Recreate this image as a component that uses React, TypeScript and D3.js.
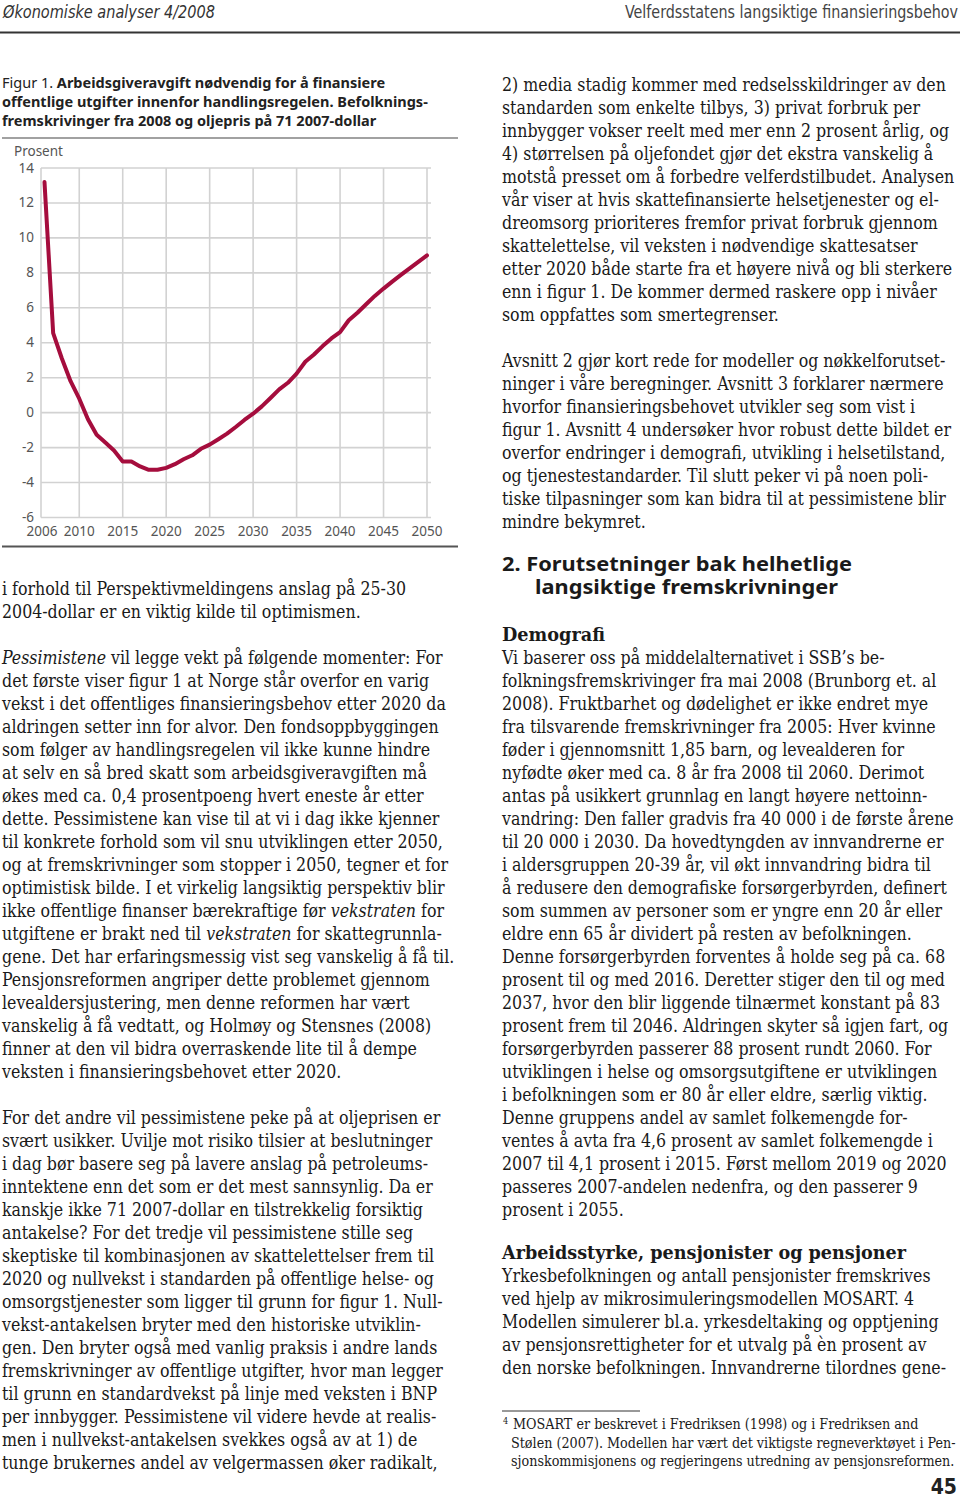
import React from 'react'
import * as d3 from 'd3'

// Arbeidsgiveravgift, prosent, 2006-2050
const years = d3.range(2006, 2051)
const values = [
    13.2, 4.55, 3.1, 1.8, 0.8, -0.38, -1.27, -1.71, -2.17, -2.8,
    -2.8, -3.08, -3.27, -3.27, -3.16, -2.95, -2.67, -2.44, -2.07, -1.83,
    -1.52, -1.2, -0.82, -0.42, -0.06, 0.36, 0.84, 1.33, 1.71, 2.23,
    2.91, 3.33, 3.81, 4.25, 4.61, 5.29, 5.72, 6.2, 6.68, 7.1,
    7.5, 7.88, 8.26, 8.63, 9.0,
]
const yTicks = [14, 12, 10, 8, 6, 4, 2, 0, -2, -4, -6]
const xGrid = [2010, 2015, 2020, 2025, 2030, 2035, 2040, 2045, 2050]
const xLabels = [2006, 2010, 2015, 2020, 2025, 2030, 2035, 2040, 2045, 2050]

const captionLines = [
    'offentlige utgifter innenfor handlingsregelen. Befolknings-',
    'fremskrivinger fra 2008 og oljepris på 71 2007-dollar',
]

// *...* = kursiv, '' = tom linje
const leftText = [
    'i forhold til Perspektivmeldingens anslag på 25-30',
    '2004-dollar er en viktig kilde til optimismen.',
    '',
    '*Pessimistene* vil legge vekt på følgende momenter: For',
    'det første viser figur 1 at Norge står overfor en varig',
    'vekst i det offentliges finansieringsbehov etter 2020 da',
    'aldringen setter inn for alvor. Den fondsoppbyggingen',
    'som følger av handlingsregelen vil ikke kunne hindre',
    'at selv en så bred skatt som arbeidsgiveravgiften må',
    'økes med ca. 0,4 prosentpoeng hvert eneste år etter',
    'dette. Pessimistene kan vise til at vi i dag ikke kjenner',
    'til konkrete forhold som vil snu utviklingen etter 2050,',
    'og at fremskrivninger som stopper i 2050, tegner et for',
    'optimistisk bilde. I et virkelig langsiktig perspektiv blir',
    'ikke offentlige finanser bærekraftige før *vekstraten* for',
    'utgiftene er brakt ned til *vekstraten* for skattegrunnla-',
    'gene. Det har erfaringsmessig vist seg vanskelig å få til.',
    'Pensjonsreformen angriper dette problemet gjennom',
    'levealdersjustering, men denne reformen har vært',
    'vanskelig å få vedtatt, og Holmøy og Stensnes (2008)',
    'finner at den vil bidra overraskende lite til å dempe',
    'veksten i finansieringsbehovet etter 2020.',
    '',
    'For det andre vil pessimistene peke på at oljeprisen er',
    'svært usikker. Uvilje mot risiko tilsier at beslutninger',
    'i dag bør basere seg på lavere anslag på petroleums-',
    'inntektene enn det som er det mest sannsynlig. Da er',
    'kanskje ikke 71 2007-dollar en tilstrekkelig forsiktig',
    'antakelse? For det tredje vil pessimistene stille seg',
    'skeptiske til kombinasjonen av skattelettelser frem til',
    '2020 og nullvekst i standarden på offentlige helse- og',
    'omsorgstjenester som ligger til grunn for figur 1. Null-',
    'vekst-antakelsen bryter med den historiske utviklin-',
    'gen. Den bryter også med vanlig praksis i andre lands',
    'fremskrivninger av offentlige utgifter, hvor man legger',
    'til grunn en standardvekst på linje med veksten i BNP',
    'per innbygger. Pessimistene vil videre hevde at realis-',
    'men i nullvekst-antakelsen svekkes også av at 1) de',
    'tunge brukernes andel av velgermassen øker radikalt,',
]

const rightTop = [
    '2) media stadig kommer med redselsskildringer av den',
    'standarden som enkelte tilbys, 3) privat forbruk per',
    'innbygger vokser reelt med mer enn 2 prosent årlig, og',
    '4) størrelsen på oljefondet gjør det ekstra vanskelig å',
    'motstå presset om å forbedre velferdstilbudet. Analysen',
    'vår viser at hvis skattefinansierte helsetjenester og el-',
    'dreomsorg prioriteres fremfor privat forbruk gjennom',
    'skattelettelse, vil veksten i nødvendige skattesatser',
    'etter 2020 både starte fra et høyere nivå og bli sterkere',
    'enn i figur 1. De kommer dermed raskere opp i nivåer',
    'som oppfattes som smertegrenser.',
    '',
    'Avsnitt 2 gjør kort rede for modeller og nøkkelforutset-',
    'ninger i våre beregninger. Avsnitt 3 forklarer nærmere',
    'hvorfor finansieringsbehovet utvikler seg som vist i',
    'figur 1. Avsnitt 4 undersøker hvor robust dette bildet er',
    'overfor endringer i demografi, utvikling i helsetilstand,',
    'og tjenestestandarder. Til slutt peker vi på noen poli-',
    'tiske tilpasninger som kan bidra til at pessimistene blir',
    'mindre bekymret.',
]

const demografi = [
    'Vi baserer oss på middelalternativet i SSB’s be-',
    'folkningsfremskrivinger fra mai 2008 (Brunborg et. al',
    '2008). Fruktbarhet og dødelighet er ikke endret mye',
    'fra tilsvarende fremskrivninger fra 2005: Hver kvinne',
    'føder i gjennomsnitt 1,85 barn, og levealderen for',
    'nyfødte øker med ca. 8 år fra 2008 til 2060. Derimot',
    'antas på usikkert grunnlag en langt høyere nettoinn-',
    'vandring: Den faller gradvis fra 40 000 i de første årene',
    'til 20 000 i 2030. Da hovedtyngden av innvandrerne er',
    'i aldersgruppen 20-39 år, vil økt innvandring bidra til',
    'å redusere den demografiske forsørgerbyrden, definert',
    'som summen av personer som er yngre enn 20 år eller',
    'eldre enn 65 år dividert på resten av befolkningen.',
    'Denne forsørgerbyrden forventes å holde seg på ca. 68',
    'prosent til og med 2016. Deretter stiger den til og med',
    '2037, hvor den blir liggende tilnærmet konstant på 83',
    'prosent frem til 2046. Aldringen skyter så igjen fart, og',
    'forsørgerbyrden passerer 88 prosent rundt 2060. For',
    'utviklingen i helse og omsorgsutgiftene er utviklingen',
    'i befolkningen som er 80 år eller eldre, særlig viktig.',
    'Denne gruppens andel av samlet folkemengde for-',
    'ventes å avta fra 4,6 prosent av samlet folkemengde i',
    '2007 til 4,1 prosent i 2015. Først mellom 2019 og 2020',
    'passeres 2007-andelen nedenfra, og den passerer 9',
    'prosent i 2055.',
]

const arbeid = [
    'Yrkesbefolkningen og antall pensjonister fremskrives',
    'ved hjelp av mikrosimuleringsmodellen MOSART. 4',
    'Modellen simulerer bl.a. yrkesdeltaking og opptjening',
    'av pensjonsrettigheter for et utvalg på èn prosent av',
    'den norske befolkningen. Innvandrerne tilordnes gene-',
]

const footnote = [
    'MOSART er beskrevet i Fredriksen (1998) og i Fredriksen and',
    'Stølen (2007). Modellen har vært det viktigste regneverktøyet i Pen-',
    'sjonskommisjonens og regjeringens utredning av pensjonsreformen.',
]

const SERIF = '"DejaVu Serif Condensed", "DejaVu Serif", serif'
const SANS = '"Noto Sans", "Open Sans", sans-serif'
const NARROW = '"Liberation Sans Narrow", "DejaVu Sans Condensed", sans-serif'
const LH = 23
const BODY = 17.6

const Line = ({ text, x, y, size = BODY, weight = 'normal', len = undefined }) => {
    const parts = text.split('*')
    return (
        <text x={x} y={y} fontFamily={SERIF} fontSize={size} fontWeight={weight} fill='#1a1a1a'
            textLength={len} lengthAdjust={len ? 'spacingAndGlyphs' : undefined}>
            {parts.map((p, i) => (
                <tspan key={i} fontStyle={i % 2 ? 'italic' : 'normal'}>{p}</tspan>
            ))}
        </text>
    )
}

const Block = ({ lines, x, y }) => (
    <g>
        {lines.map((l, i) => l && <Line key={i} text={l} x={x} y={y + i * LH} />)}
    </g>
)

const Chart = () => {
    const x = d3.scaleLinear().domain([2005.6, 2050]).range([41, 427])
    const y = d3.scaleLinear().domain([-6, 14]).range([517.5, 168])
    const line = d3.line<number>()
        .x((d, i) => x(years[i]))
        .y(d => y(d))

    return (
        <g>
            {yTicks.map(t => (
                <g key={t}>
                    <line x1={x(2005.6)} x2={x(2050) + 4} y1={y(t)} y2={y(t)} stroke='#d2d2d2' strokeWidth={1.6} />
                    <text x={34} y={y(t) + 4.5} textAnchor='end' fontFamily={SANS} fontSize={13.5} fill='#555'>{t}</text>
                </g>
            ))}
            <line x1={x(2005.6)} x2={x(2005.6)} y1={y(14)} y2={y(-6)} stroke='#d2d2d2' strokeWidth={1.6} />
            {xGrid.map(t => (
                <line key={t} x1={x(t)} x2={x(t)} y1={y(14)} y2={y(-6)} stroke='#d2d2d2' strokeWidth={1.6} />
            ))}
            {xLabels.map(t => (
                <text key={t} x={t === 2006 ? x(2005.6) + 1 : x(t)} y={535.5} textAnchor='middle' fontFamily={SANS} fontSize={13.5} fill='#555'>{t}</text>
            ))}
            <text x={14} y={156} fontFamily={SANS} fontSize={13.5} fill='#555'>Prosent</text>
            <path d={line(values)} fill='none' stroke='#a50d3d' strokeWidth={4} strokeLinejoin='round' strokeLinecap='round' />
        </g>
    )
}

const App = () => {
    return (
        <svg width={960} height={1499} style={{ position: 'absolute', left: 0, top: 0, background: '#fff' }}>
            <rect width={960} height={1499} fill='#fff' />
            {/* header */}
            <text x={3} y={18} fontFamily={NARROW} fontStyle='italic' fontSize={18} fill='#333' textLength={212} lengthAdjust='spacingAndGlyphs'>Økonomiske analyser 4/2008</text>
            <text x={625} y={18} fontFamily={NARROW} fontSize={18} fill='#444' textLength={333} lengthAdjust='spacingAndGlyphs'>Velferdsstatens langsiktige finansieringsbehov</text>
            <line x1={0} x2={960} y1={32.5} y2={32.5} stroke='#333' strokeWidth={2} />

            {/* figure caption */}
            <text x={2} y={88} fontFamily={SANS} fontSize={14.5} fill='#222'>
                <tspan>Figur 1. </tspan>
                <tspan fontWeight='bold'>Arbeidsgiveravgift nødvendig for å finansiere</tspan>
            </text>
            {captionLines.map((l, i) => (
                <text key={i} x={2} y={107 + i * 19} fontFamily={SANS} fontSize={14.5} fontWeight='bold' fill='#222'>{l}</text>
            ))}
            <line x1={2} x2={458} y1={138} y2={138} stroke='#444' strokeWidth={1.2} />

            <Chart />
            <line x1={2} x2={458} y1={546.5} y2={546.5} stroke='#555' strokeWidth={2} />

            <Block lines={leftText} x={2} y={595} />
            <Block lines={rightTop} x={502} y={91} />

            <text x={502} y={571} fontFamily={SANS} fontSize={20} fontWeight='bold' fill='#1a1a1a' textLength={350} lengthAdjust='spacingAndGlyphs'>2. Forutsetninger bak helhetlige</text>
            <text x={535} y={594} fontFamily={SANS} fontSize={20} fontWeight='bold' fill='#1a1a1a' textLength={303} lengthAdjust='spacingAndGlyphs'>langsiktige fremskrivninger</text>

            <Line text='Demografi' x={502} y={641} weight='bold' len={103} />
            <Block lines={demografi} x={502} y={664} />

            <Line text='Arbeidsstyrke, pensjonister og pensjoner' x={502} y={1259} weight='bold' len={404} />
            <Block lines={arbeid} x={502} y={1282} />

            {/* footnote */}
            <line x1={502} x2={640} y1={1411} y2={1411} stroke='#333' strokeWidth={1} />
            <text x={503} y={1424} fontFamily={SERIF} fontSize={9} fill='#222'>4</text>
            {footnote.map((l, i) => (
                <Line key={i} text={l} x={i === 0 ? 513 : 511} y={1429 + i * 18.5} size={14.2} />
            ))}
            <text x={957} y={1494} textAnchor='end' fontFamily={NARROW} fontWeight='bold' fontSize={21} fill='#222'>45</text>
        </svg>
    )
}

export default App
